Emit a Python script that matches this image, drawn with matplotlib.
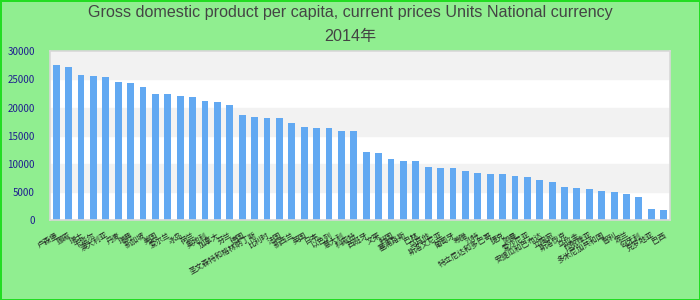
import matplotlib
matplotlib.use('Agg')
import matplotlib.pyplot as plt
import numpy as np

plt.rcParams['font.family'] = ['Noto Sans CJK SC', 'DejaVu Sans']

# 2014 GDP per capita (national currency), sorted high -> low
countries = ['卢森堡', '挪威', '瑞士', '卡塔尔', '澳大利亚', '丹麦', '瑞典', '新加坡',
             '美国', '爱尔兰', '冰岛', '荷兰', '奥地利', '加拿大', '芬兰', '德国',
             '圣文森特和格林纳丁斯', '比利时', '法国', '新西兰', '英国', '日本', '以色列', '意大利',
             '科威特', '西班牙', '文莱', '韩国', '塞浦路斯', '巴林', '马耳他', '斯洛文尼亚',
             '葡萄牙', '希腊', '沙特', '特立尼达和多巴哥', '捷克', '阿曼', '爱沙尼亚', '安提瓜和巴布达',
             '立陶宛', '斯洛伐克', '乌拉圭', '拉脱维亚', '多米尼加共和国', '智利', '波兰', '匈牙利',
             '克罗地亚', '巴西']
gdp = [27560, 27200, 25790, 25610, 25430, 24540, 24360, 23650, 22410, 22410,
       22050, 21870, 21160, 20980, 20450, 18670, 18320, 18140, 18140, 17250,
       16540, 16360, 16360, 15830, 15830, 12090, 11910, 10850, 10490, 10490,
       9430, 9250, 9250, 8710, 8360, 8180, 8180, 7820, 7650, 7110,
       6760, 5870, 5690, 5510, 5160, 4980, 4620, 4090, 1960, 1780]

fig = plt.figure(figsize=(7, 3), dpi=100, facecolor='#90ee90')
fig.patch.set_edgecolor('#22dd22')
fig.patch.set_linewidth(2)
ax = fig.add_axes([0.0714, 0.2667, 0.8857, 0.5623])
ax.set_facecolor('white')

# alternating horizontal bands
for lo in range(0, 30000, 5000):
    if (lo // 5000) % 2 == 1:
        ax.axhspan(lo, lo + 5000, color='#f2f2f2', zorder=0)

x = np.arange(len(gdp))
ax.bar(x, gdp, width=0.56, color='#62a9f2', zorder=2)

ax.set_xlim(-0.5, len(gdp) - 0.5)
ax.set_ylim(0, 30000)
ax.set_yticks(range(0, 30001, 5000))
ax.tick_params(axis='y', length=0, pad=11, labelsize=7, labelcolor='#1f1f8f')
ax.set_xticks(x)
ax.set_xticklabels(countries, rotation=30, ha='right', rotation_mode='anchor',
                   fontsize=5.5, color='#222222')
ax.tick_params(axis='x', length=0, pad=8)
for s in ax.spines.values():
    s.set_color('#d8d8d8')
    s.set_linewidth(1.2)

fig.text(0.5, 0.957, 'Gross domestic product per capita, current prices Units National currency',
         ha='center', va='center', fontsize=11.6, color='#444444', family=['Liberation Sans', 'DejaVu Sans'])
fig.text(0.5, 0.877, '2014年', ha='center', va='center', fontsize=11.6, color='#444444',
         family=['Liberation Sans', 'Noto Sans CJK SC'])

fig.savefig('out.png', dpi=100, facecolor=fig.get_facecolor(), edgecolor=fig.get_edgecolor())
